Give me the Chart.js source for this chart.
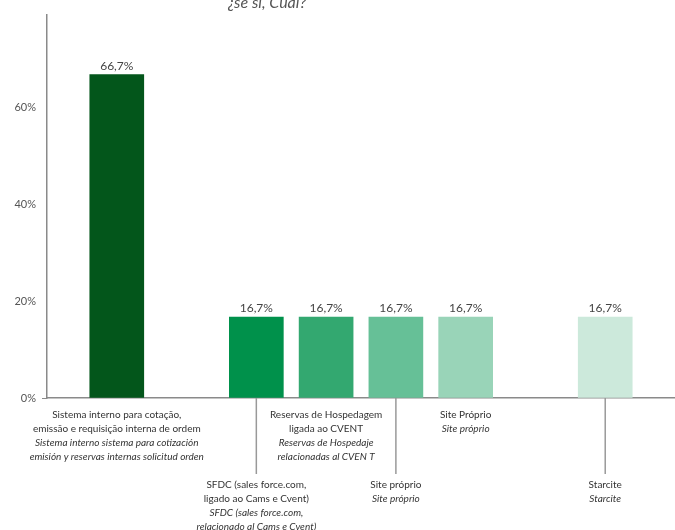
<!DOCTYPE html>
<html>
<head>
<meta charset="utf-8">
<script src="https://cdn.jsdelivr.net/npm/chart.js@4.4.1/dist/chart.umd.min.js"></script>
<style>
  body { margin: 0; background: #fff; }
  #wrap { width: 675px; height: 530px; }
</style>
</head>
<body>
<div id="wrap"><canvas id="grafico"></canvas></div>
<script>
// empty strings are the blank slots of the original layout
const categorias = ['', 'Sistema interno', '', 'SFDC', 'Reservas CVENT', 'Site próprio', 'Site Próprio', '', 'Starcite', ''];
const valores = [null, 66.7, null, 16.7, 16.7, 16.7, 16.7, null, 16.7, null];
const cores = ['', '#03561b', '', '#00914b', '#33a870', '#66c097', '#99d4b8', '', '#cce9db', ''];
const rotulosPt = [
  ['Sistema interno para cotação,', 'emissão e requisição interna de ordem'],
  ['SFDC (sales force.com,', 'ligado ao Cams e Cvent)'],
  ['Reservas de Hospedagem', 'ligada ao CVENT'],
  ['Site próprio'],
  ['Site Próprio'],
  ['Starcite']
];
const rotulosEs = [
  ['Sistema interno sistema para cotización', 'emisión y reservas internas solicitud orden'],
  ['SFDC (sales force.com,', 'relacionado al Cams e Cvent)'],
  ['Reservas de Hospedaje', 'relacionadas al CVEN T'],
  ['Site próprio'],
  ['Site próprio'],
  ['Starcite']
];
const ticksY = [0, 20, 40, 60];
const titulo = '¿se sí, Cuál?';

const fmt = v => v.toFixed(1).replace('.', ',') + '%';

const rotulosPlugin = {
  id: 'rotulos',
  afterDatasetsDraw(chart) {
    const ctx = chart.ctx;
    const area = chart.chartArea;
    const meta = chart.getDatasetMeta(0);
    ctx.save();
    // titulo (cortado no topo)
    ctx.fillStyle = '#555';
    ctx.font = 'italic 16px Lato';
    ctx.textAlign = 'center';
    ctx.textBaseline = 'alphabetic';
    ctx.fillText(titulo, 267, 8);

    let j = 0;
    meta.data.forEach((bar, i) => {
      if (valores[i] == null) return;
      // valor acima da barra
      ctx.fillStyle = '#444';
      ctx.font = '12px Lato';
      ctx.textAlign = 'center';
      ctx.textBaseline = 'bottom';
      ctx.fillText(fmt(valores[i]), bar.x, bar.y - 3);

      const baixo = j % 2 === 1;
      let y = area.bottom + (baixo ? 87 : 17);
      if (baixo) {
        ctx.strokeStyle = '#999';
        ctx.lineWidth = 1.5;
        ctx.beginPath();
        ctx.moveTo(bar.x, area.bottom);
        ctx.lineTo(bar.x, area.bottom + 76);
        ctx.stroke();
      }
      ctx.textBaseline = 'middle';
      ctx.fillStyle = '#333';
      ctx.font = '10px Lato';
      rotulosPt[j].forEach(t => { ctx.fillText(t, bar.x, y); y += 14; });
      ctx.font = 'italic 10px Lato';
      rotulosEs[j].forEach(t => { ctx.fillText(t, bar.x, y); y += 14; });
      j++;
    });
    ctx.restore();
  }
};

const ctx = document.getElementById('grafico').getContext('2d');
new Chart(ctx, {
  type: 'bar',
  data: {
    labels: categorias,
    datasets: [{
      data: valores,
      backgroundColor: cores,
      barThickness: 54
    }]
  },
  options: {
    responsive: true,
    maintainAspectRatio: false,
    animation: false,
    layout: { padding: { top: 15, bottom: 132, left: 0, right: 0 } },
    plugins: {
      legend: { display: false },
      tooltip: { enabled: false }
    },
    scales: {
      x: {
        offset: false,
        grid: { display: false, drawTicks: false },
        ticks: { display: false },
        border: { display: true, color: '#8a8a8a', width: 1.5 },
        afterFit: s => { s.height = 0; }
      },
      y: {
        min: 0,
        max: 79,
        afterBuildTicks: s => { s.ticks = ticksY.map(v => ({ value: v })); },
        afterFit: s => { s.width = 47; },
        grid: {
          drawOnChartArea: false,
          tickLength: 5,
          color: c => (c.tick && c.tick.value === 0 ? '#8a8a8a' : 'rgba(0,0,0,0)')
        },
        border: { display: true, color: '#8a8a8a', width: 1.5 },
        ticks: {
          padding: 6,
          color: '#555',
          font: { family: 'Lato', size: 11 },
          callback: v => v + '%'
        }
      }
    }
  },
  plugins: [rotulosPlugin]
});
</script>
</body>
</html>
